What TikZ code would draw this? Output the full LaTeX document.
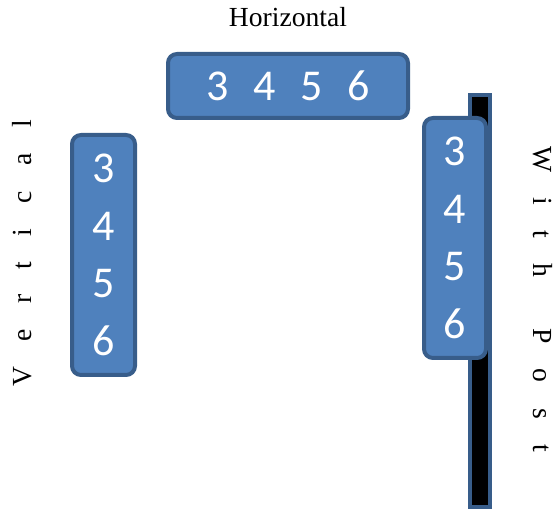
\documentclass[tikz,border=0pt]{standalone}
\usepackage{fontspec}
\setmainfont{Liberation Serif}
\newfontfamily\digitfont{Carlito}
\usepackage{xcolor}
\definecolor{boxfill}{HTML}{4F81BD}
\definecolor{boxline}{HTML}{385D8A}
\newcommand\spaced[1]{\spaceskip=25.4pt\relax#1}

\begin{document}
\begin{tikzpicture}%
  [x=1pt,y=-1pt]
  \tikzstyle{num box}=[rectangle,rounded corners=9pt,draw=boxline,fill=boxfill,line width=4pt,
    text=white,font=\digitfont\fontsize{44}{57.5}\selectfont,inner sep=0pt,align=center]
  \tikzstyle{post node}=[rectangle,draw=boxline,fill=black,line width=4pt,
    minimum width=20pt,minimum height=412pt,inner sep=0pt]
  \tikzstyle{label node}=[inner sep=0pt,font=\fontsize{27.6}{30}\selectfont]
  \useasboundingbox (0,0) rectangle (560,510);
  \node(htitle)[label node] at (288,17){Horizontal};
  \node(hbox)[num box,minimum width=240pt,minimum height=64pt] at (288,86)
    {3\hspace{24.5pt}4\hspace{24.5pt}5\hspace{24.5pt}6};
  \node(vbox)[num box,minimum width=63pt,minimum height=240pt] at (103.5,255){3\\4\\5\\6};
  \node(vlabel)[label node,rotate=90] at (22.5,253.5){\spaced{V e r t i c a l}};
  \node(post)[post node] at (480,301){};
  \node(pbox)[num box,minimum width=62pt,minimum height=240pt] at (455,238){3\\4\\5\\6};
  \node(plabel)[label node,rotate=-90] at (543,299){\spaced{W i t h~~P o s t}};
\end{tikzpicture}
\end{document}
